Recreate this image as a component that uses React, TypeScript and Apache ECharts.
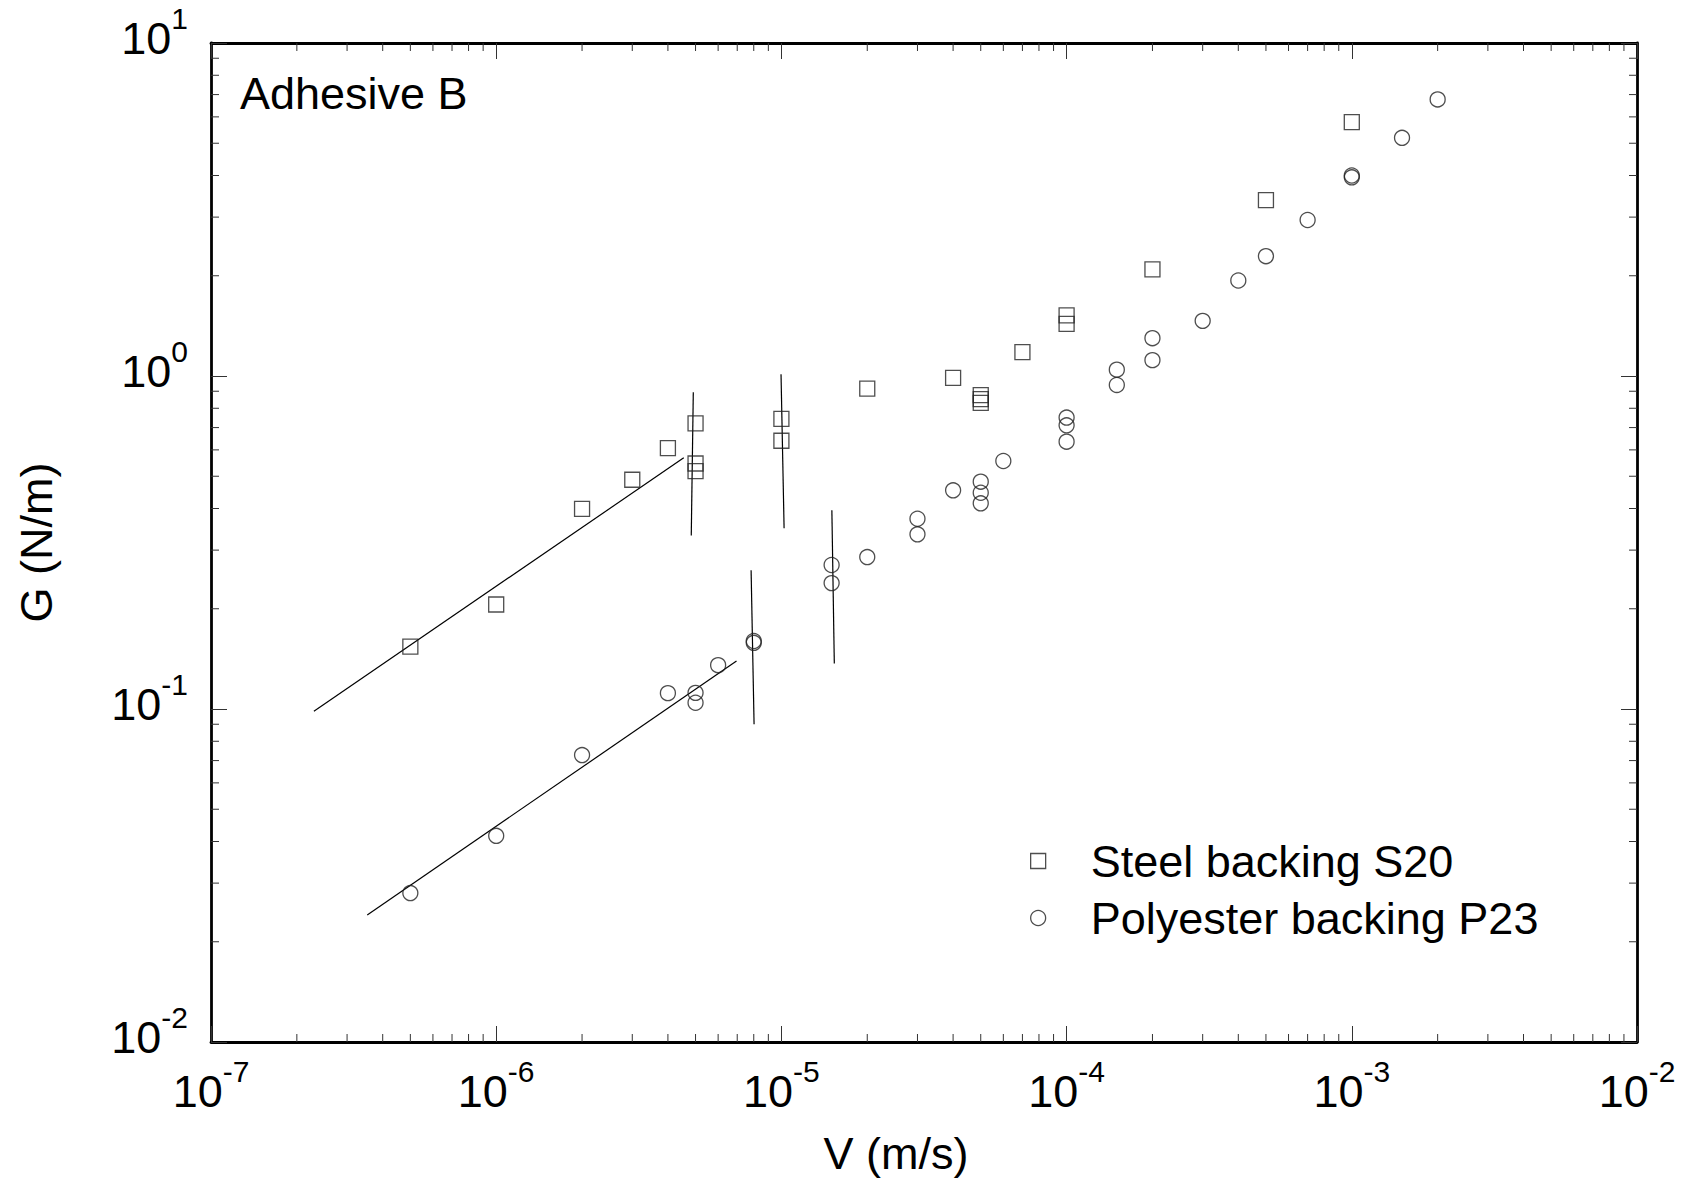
import React, { useEffect, useRef } from "react";
import * as echarts from "echarts";

const FONT = "'Liberation Sans', Arial, Helvetica, sans-serif";

// Steel backing S20 (squares)
const steelV = [5e-7, 1e-6, 2e-6, 3e-6, 4e-6, 5e-6, 5e-6, 5e-6, 1e-5, 1e-5, 2e-5, 4e-5, 5e-5, 5e-5, 5e-5, 7e-5, 1e-4, 1e-4, 2e-4, 5e-4, 1e-3];
const steelG = [0.154, 0.206, 0.399, 0.488, 0.607, 0.721, 0.546, 0.518, 0.743, 0.639, 0.916, 0.987, 0.876, 0.852, 0.83, 1.18, 1.52, 1.434, 2.09, 3.375, 5.79];

// Polyester backing P23 (circles)
const polyV = [5e-7, 1e-6, 2e-6, 4e-6, 5e-6, 5e-6, 6e-6, 8e-6, 8e-6, 1.5e-5, 1.5e-5, 2e-5, 3e-5, 3e-5, 4e-5, 5e-5, 5e-5, 5e-5, 6e-5, 1e-4, 1e-4, 1e-4, 1.5e-4, 1.5e-4, 2e-4, 2e-4, 3e-4, 4e-4, 5e-4, 7e-4, 1e-3, 1e-3, 1.5e-3, 2e-3];
const polyG = [0.028, 0.0416, 0.0727, 0.1116, 0.1118, 0.1044, 0.1354, 0.158, 0.16, 0.2707, 0.2388, 0.2859, 0.3727, 0.3346, 0.4535, 0.4816, 0.4461, 0.4146, 0.5557, 0.75, 0.711, 0.635, 1.045, 0.94, 1.299, 1.116, 1.464, 1.935, 2.29, 2.94, 3.95, 4.0, 5.19, 6.77];

// Fitted / guide line segments [V, G] endpoints
const steelFit = [[2.295e-7, 0.0985], [4.546e-6, 0.568]];
const polyFit = [[3.53e-7, 0.02408], [6.96e-6, 0.1393]];
const guideA = [[4.91e-6, 0.894], [4.83e-6, 0.332]];
const guideB = [[9.97e-6, 1.012], [1.022e-5, 0.349]];
const guideC = [[1.503e-5, 0.395], [1.533e-5, 0.137]];
const guideD = [[7.83e-6, 0.261], [8.02e-6, 0.09]];

// Axes
const xMin = 1e-7;
const xMax = 1e-2;
const yMin = 1e-2;
const yMax = 10;
const xDecades = [1e-7, 1e-6, 1e-5, 1e-4, 1e-3];
const yDecades = [1e-2, 1e-1, 1];
const minorMultipliers = [2, 3, 4, 5, 6, 7, 8, 9];

const seriesNames = ["Steel backing S20", "Polyester backing P23"];

const expLabel = (v: number) => {
  const e = Math.round(Math.log10(v));
  return `{b|10}{s|${e}}`;
};

const labelRich = {
  b: { fontSize: 45, fontFamily: FONT, color: "#000", lineHeight: 70 },
  s: { fontSize: 30, fontFamily: FONT, color: "#000", lineHeight: 32, verticalAlign: "top" },
};

export default function App() {
  const ref = useRef<HTMLDivElement>(null);

  useEffect(() => {
    if (!ref.current) return;
    const chart = echarts.init(ref.current, null, { renderer: "svg" });

    const xMinor: number[][] = [];
    xDecades.forEach((d) => minorMultipliers.forEach((m) => xMinor.push([d * m, 1])));
    const yMinor: number[][] = [];
    yDecades.forEach((d) => minorMultipliers.forEach((m) => yMinor.push([1e-5, d * m])));

    const tickStyle = { stroke: "#333", lineWidth: 1 };
    const minorLen = 8;

    const axisLineStyle = { color: "#000", width: 2.8 };
    const majorTick = { show: true, inside: true, length: 16, lineStyle: { color: "#333", width: 1 } };

    const guideSeries = [steelFit, polyFit, guideA, guideB, guideC, guideD].map((seg, i) => ({
      name: "guide" + i,
      type: "line",
      data: seg,
      showSymbol: false,
      symbol: "none",
      silent: true,
      lineStyle: { color: "#000", width: 1.2 },
      z: 2,
    }));

    const markerStyle = { color: "rgba(0,0,0,0)", borderColor: "#222", borderWidth: 1.3 };

    chart.setOption({
      animation: false,
      backgroundColor: "#fff",
      textStyle: { fontFamily: FONT },
      grid: { left: 211, right: 61, top: 43, bottom: 151, containLabel: false, outerBoundsMode: "none" },
      legend: {
        orient: "vertical",
        left: 1025,
        top: 831,
        itemWidth: 15,
        itemHeight: 15,
        itemGap: 7,
        selectedMode: false,
        data: [
          { name: seriesNames[0], icon: "rect" },
          { name: seriesNames[1], icon: "circle" },
        ],
        itemStyle: { color: "rgba(0,0,0,0)", borderColor: "#222", borderWidth: 1.3 },
        textStyle: { fontSize: 45, fontFamily: FONT, color: "#000", lineHeight: 50, padding: [0, 0, 0, 40] },
      },
      graphic: [
        {
          type: "text",
          x: 240,
          y: 93,
          style: { text: "Adhesive B", fontSize: 45, fontFamily: FONT, fill: "#000", align: "left", verticalAlign: "middle" },
        },
      ],
      xAxis: [
        {
          type: "log",
          logBase: 10,
          min: xMin,
          max: xMax,
          position: "bottom",
          name: "V (m/s)",
          nameLocation: "middle",
          nameGap: 86,
          nameTextStyle: { fontSize: 45, fontFamily: FONT, color: "#000", lineHeight: 50, padding: [0, 56, 0, 0] },
          axisLine: { show: true, lineStyle: axisLineStyle },
          axisTick: majorTick,
          splitLine: { show: false },
          minorTick: { show: false },
          axisLabel: { margin: 14, formatter: expLabel, rich: labelRich },
        },
        {
          type: "log",
          logBase: 10,
          min: xMin,
          max: xMax,
          position: "top",
          axisLine: { show: true, lineStyle: axisLineStyle },
          axisTick: majorTick,
          splitLine: { show: false },
          axisLabel: { show: false },
        },
      ],
      yAxis: [
        {
          type: "log",
          logBase: 10,
          min: yMin,
          max: yMax,
          position: "left",
          name: "G (N/m)",
          nameLocation: "middle",
          nameGap: 150,
          nameTextStyle: { fontSize: 45, fontFamily: FONT, color: "#000", lineHeight: 50 },
          axisLine: { show: true, lineStyle: axisLineStyle },
          axisTick: majorTick,
          splitLine: { show: false },
          axisLabel: { margin: 23, formatter: expLabel, rich: labelRich, padding: [0, 0, 10, 0] },
        },
        {
          type: "log",
          logBase: 10,
          min: yMin,
          max: yMax,
          position: "right",
          axisLine: { show: true, lineStyle: axisLineStyle },
          axisTick: majorTick,
          splitLine: { show: false },
          axisLabel: { show: false },
        },
      ],
      series: [
        {
          name: "xMinorTicks",
          type: "custom",
          coordinateSystem: "cartesian2d",
          xAxisIndex: 0,
          yAxisIndex: 0,
          silent: true,
          clip: false,
          encode: { x: 0, y: 1 },
          data: xMinor,
          renderItem: (params: any, api: any) => {
            const cs = params.coordSys;
            const x = api.coord([api.value(0), 1])[0];
            const bottom = cs.y + cs.height;
            return {
              type: "group",
              children: [
                { type: "line", shape: { x1: x, y1: bottom, x2: x, y2: bottom - minorLen }, style: tickStyle },
                { type: "line", shape: { x1: x, y1: cs.y, x2: x, y2: cs.y + minorLen }, style: tickStyle },
              ],
            };
          },
        },
        {
          name: "yMinorTicks",
          type: "custom",
          coordinateSystem: "cartesian2d",
          xAxisIndex: 0,
          yAxisIndex: 0,
          silent: true,
          clip: false,
          encode: { x: 0, y: 1 },
          data: yMinor,
          renderItem: (params: any, api: any) => {
            const cs = params.coordSys;
            const y = api.coord([1e-5, api.value(1)])[1];
            const right = cs.x + cs.width;
            return {
              type: "group",
              children: [
                { type: "line", shape: { x1: cs.x, y1: y, x2: cs.x + minorLen, y2: y }, style: tickStyle },
                { type: "line", shape: { x1: right, y1: y, x2: right - minorLen, y2: y }, style: tickStyle },
              ],
            };
          },
        },
        ...guideSeries,
        {
          name: seriesNames[0],
          type: "scatter",
          symbol: "rect",
          symbolSize: 15,
          data: steelV.map((v, i) => [v, steelG[i]]),
          itemStyle: markerStyle,
          z: 3,
        },
        {
          name: seriesNames[1],
          type: "scatter",
          symbol: "circle",
          symbolSize: 15,
          data: polyV.map((v, i) => [v, polyG[i]]),
          itemStyle: markerStyle,
          z: 3,
        },
      ],
    });

    return () => chart.dispose();
  }, []);

  return (
    <div
      ref={ref}
      style={{ position: "fixed", left: 0, top: 0, width: 1698, height: 1193, background: "#fff" }}
    />
  );
}
